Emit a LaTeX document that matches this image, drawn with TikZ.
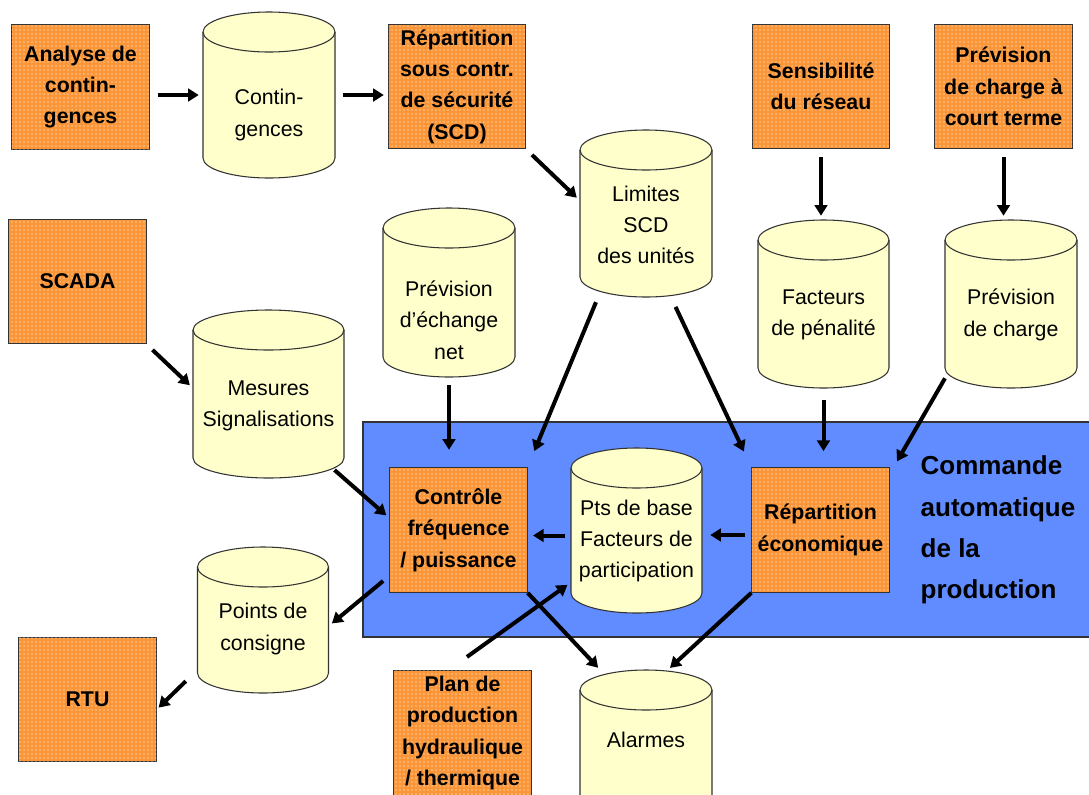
\documentclass[tikz,border=0pt]{standalone}
\usepackage{fontspec}
\setmainfont{Liberation Sans}
\usetikzlibrary{arrows.meta,patterns,calc}

\definecolor{boxorange}{RGB}{250,150,55}
\definecolor{dbyellow}{RGB}{255,255,204}
\definecolor{agcblue}{RGB}{96,140,255}

\tikzset{
  task/.style={draw=black!80, line width=0.8pt, fill=boxorange,
    postaction={pattern=dots, pattern color=white},
    minimum width=103pt, minimum height=93.5pt, inner sep=0pt, align=center,
    font=\fontsize{16}{23.5}\selectfont\bfseries},
  dbbox/.style={inner sep=0pt},
  dbline/.style={draw=black!80, line width=0.8pt, fill=dbyellow},
  dbtext/.style={align=center, font=\fontsize{16}{23.5}\selectfont},
  flow/.style={-{Triangle[length=8pt,width=9.5pt]}, line width=3pt, shorten <=6pt, shorten >=3pt},
}

% cylindre : nom, x, y, largeur, hauteur (en px)
\newcommand{\dbcylinder}[5]{%
  \node[dbbox, minimum width=#4*0.75pt, minimum height=#5*0.75pt] (#1) at (#2,#3) {};
  \draw[dbline] (#2-#4/2,#3-#5/2+20) -- (#2-#4/2,#3+#5/2-20)
    arc[start angle=180, end angle=360, x radius=#4*0.375pt, y radius=15pt]
    -- (#2+#4/2,#3-#5/2+20)
    arc[start angle=0, end angle=180, x radius=#4*0.375pt, y radius=15pt] -- cycle;
  \draw[dbline, fill=none] (#2-#4/2,#3-#5/2+20)
    arc[start angle=180, end angle=360, x radius=#4*0.375pt, y radius=15pt];
}

\begin{document}
\begin{tikzpicture}[x=0.75pt,y=-0.75pt]
\useasboundingbox (0,0) rectangle (1089,794);
\clip (0,0) rectangle (1089,794);

% zone de la commande automatique
\draw[draw=black!80, line width=0.8pt, fill=agcblue] (363,422) rectangle (1095,637);
\node[anchor=west, align=left, font=\fontsize{19.5}{31}\selectfont\bfseries] (agc) at (916,530)
  {Commande\\automatique\\de la\\production};

% fonctions et bases de donnees
\node[task] (ana) at (80.5,87) {Analyse de\\contin-\\gences};
\dbcylinder{cont}{269}{95}{132}{166}
\node[dbtext] (cont-t) at (269,115) {Contin-\\gences};
\node[task] (scd) at (457,86.5) {Répartition\\sous contr.\\de sécurité\\(SCD)};
\node[task] (sens) at (821,86.5) {Sensibilité\\du réseau};
\node[task] (prevct) at (1003.5,86.5) {Prévision\\de charge à\\court terme};
\node[task] (scada) at (77.5,281.5) {SCADA};
\dbcylinder{lim}{646}{213.5}{132}{167}
\node[dbtext] (lim-t) at (646,225) {Limites\\SCD\\des unités};
\dbcylinder{ech}{449}{292.5}{132}{169}
\node[dbtext] (ech-t) at (449,320) {Prévision\\d’échange\\net};
\dbcylinder{fact}{823.5}{304}{131}{168}
\node[dbtext] (fact-t) at (823.5,315) {Facteurs\\de pénalité};
\dbcylinder{prevch}{1011}{304}{132}{168}
\node[dbtext] (prevch-t) at (1011,315) {Prévision\\de charge};
\dbcylinder{mes}{268.5}{394}{151}{168}
\node[dbtext] (mes-t) at (268.5,406) {Mesures\\Signalisations};
\node[task] (ctrl) at (458.5,530) {Contrôle\\fréquence\\/ puissance};
\dbcylinder{pts}{636.5}{530.5}{131}{165}
\node[dbtext] (pts-t) at (636.5,541) {Pts de base\\Facteurs de\\participation};
\node[task] (eco) at (820.5,530) {Répartition\\économique};
\dbcylinder{consigne}{263}{620}{131}{146}
\node[dbtext] (consigne-t) at (263,629) {Points de\\consigne};
\node[task] (rtu) at (87.5,699.5) {RTU};
\node[task] (plan) at (462.5,733) {Plan de\\production\\hydraulique\\/ thermique};
\dbcylinder{alarmes}{646}{753}{132}{166}
\node[dbtext] (alarmes-t) at (646,740) {Alarmes};

% fleches
\draw[flow] (cont.west -| ana.east) -- (cont.west);
\draw[flow] (cont.east) -- (cont.east -| scd.west);
\draw[flow] (scd.south east) -- ($(lim.west)+(0,-13)$);
\draw[flow] (sens.south) -- (sens.south |- fact.north);
\draw[flow] (prevct.south) -- (prevct.south |- prevch.north);
\draw[flow] (scada.south east) -- ($(mes.west)+(0,-6)$);
\draw[flow, shorten >=13pt] (ech.south) -- (ech.south |- ctrl.north);
\draw[flow, shorten <=4pt, shorten >=13pt] ($(lim.south)+(-48,0)$) -- (ctrl.north east);
\draw[flow, shorten <=8pt, shorten >=13pt] ($(lim.south)+(25,0)$) -- (eco.north west);
\draw[flow, shorten <=9pt, shorten >=12pt] (fact.south) -- (fact.south |- eco.north);
\draw[flow, shorten <=0pt, shorten >=5pt] ($(prevch.south)+(-66,-10)$) -- ($(eco.north east)+(4,0)$);
\draw[flow, shorten <=2pt] ($(mes.south)+(64,-10)$) -- ($(ctrl.west)+(0,-12)$);
\draw[flow, shorten <=5pt, shorten >=6pt] ([yshift=-3.75pt]eco.west) -- ([yshift=-3.75pt]eco.west -| pts.east);
\draw[flow, shorten <=4.5pt, shorten >=4pt] ([yshift=-3.75pt]pts.west) -- ([yshift=-3.75pt]pts.west -| ctrl.east);
\draw[flow] ($(ctrl.south west)+(0,-17)$) -- ($(consigne.east)+(0,6)$);
\draw[flow, shorten <=12pt, shorten >=2pt] ($(consigne.west)+(0,50)$) -- ($(rtu.east)+(0,10)$);
\draw[flow, shorten <=17pt, shorten >=3pt] ($(plan.north)+(-14,0)$) -- ($(pts.west)+(0,52)$);
\draw[flow, shorten <=0pt, shorten >=2pt] (ctrl.south east) -- ($(alarmes.north)+(-46,0)$);
\draw[flow, shorten <=0pt, shorten >=2pt] (eco.south west) -- ($(alarmes.north)+(22,0)$);
\end{tikzpicture}
\end{document}
